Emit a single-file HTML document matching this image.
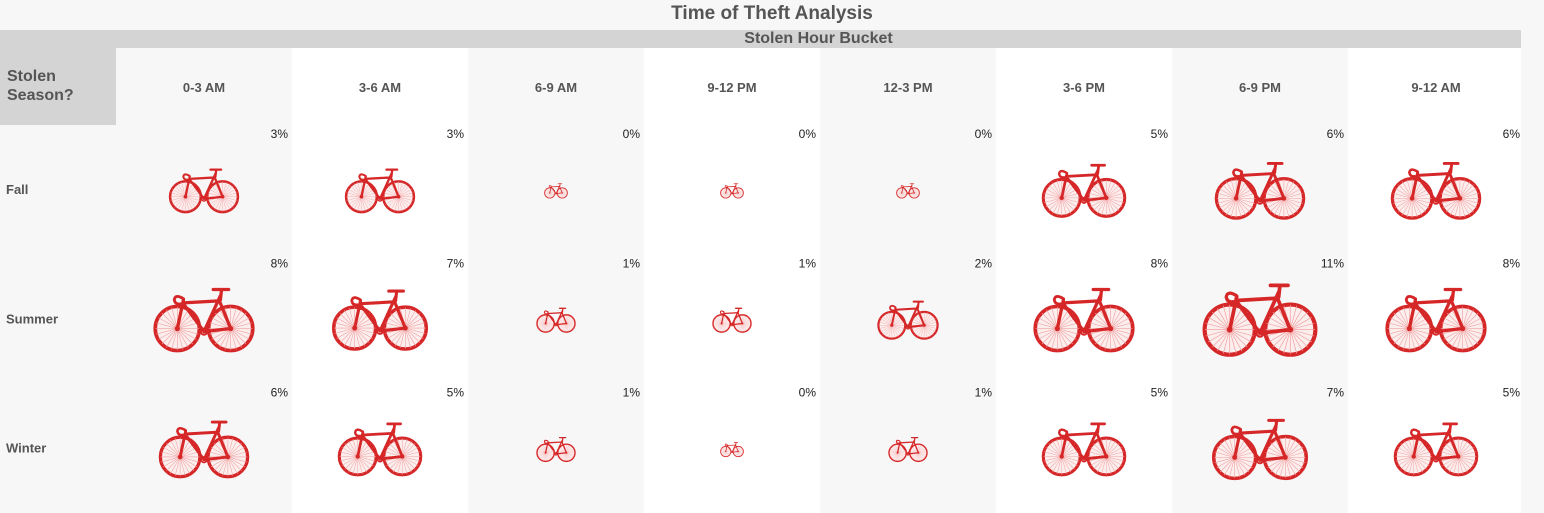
<!DOCTYPE html>
<html><head><meta charset="utf-8"><style>
body{margin:0;width:1544px;height:513px;background:#f7f7f7;font-family:"Liberation Sans",Arial,sans-serif;overflow:hidden;position:relative}
.a{position:absolute}
</style></head><body>
<div class="a" style="left:0;width:1544px;top:3px;text-align:center;font-size:19px;font-weight:bold;color:#555">Time of Theft Analysis</div>
<div class="a" style="left:0;top:30px;width:1521px;height:18px;background:#d4d4d4"></div>
<div class="a" style="left:116px;width:1405px;top:30px;text-align:center;font-size:16px;font-weight:bold;color:#555;line-height:18px">Stolen Hour Bucket</div>
<div class="a" style="left:0;top:48px;width:116px;height:77px;background:#d4d4d4"></div>
<div class="a" style="left:7px;top:67px;font-size:16px;font-weight:bold;color:#555;line-height:19px">Stolen<br>Season?</div>
<svg id="chart" class="a" style="left:0;top:0" width="1544" height="513"></svg>
<script>
const hours=["0-3 AM","3-6 AM","6-9 AM","9-12 PM","12-3 PM","3-6 PM","6-9 PM","9-12 AM"];
const seasons=["Fall","Summer","Winter"];
const fallVals=[3,3,0,0,0,5,6,6];
const summerVals=[8,7,1,1,2,8,11,8];
const winterVals=[6,5,1,0,1,5,7,5];
const series=[fallVals,summerVals,winterVals];
const NS="http://www.w3.org/2000/svg";
const svg=document.getElementById('chart');
const colX=i=>116+i*176, colW=176;
const rowY=j=>125+j*129.3;
function sz(v){return v<=0?24:(v<1.5?40:22+28.5*Math.sqrt(v));}
function mk(t,a){const e=document.createElementNS(NS,t);for(const k in a)e.setAttribute(k,a[k]);return e;}
hours.forEach((h,i)=>{
  const r=mk('rect',{x:colX(i),y:48,width:i===7?173:colW,height:465,fill:i%2===0?'#f7f7f7':'#fff'});
  
  svg.appendChild(r);
  const t=mk('text',{x:colX(i)+colW/2,y:92,'text-anchor':'middle','font-size':13,'font-weight':'bold',fill:'#555'});
  t.textContent=h;
  
  svg.appendChild(t);
});
let spokes='';
for(let k=0;k<12;k++){const a=k*Math.PI/12;spokes+=`M${-21*Math.cos(a)} ${-21*Math.sin(a)} L${21*Math.cos(a)} ${21*Math.sin(a)} `;}
seasons.forEach((s,j)=>{
  const t=mk('text',{x:6,y:rowY(j)+69,'font-size':13,'font-weight':'bold',fill:'#555'});
  t.textContent=s;
  
  svg.appendChild(t);
  series[j].forEach((v,i)=>{
    const p=mk('text',{x:colX(i)+colW-4,y:rowY(j)+13,'text-anchor':'end','font-size':12,fill:'#222'});
    p.textContent=v+'%';
    
    svg.appendChild(p);
    const w=sz(v),sc=w/100;
    const cx=colX(i)+colW/2, cy=rowY(j)+66;
    const g=mk('g',{transform:`translate(${cx-w/2},${cy-34*sc}) scale(${sc})`,stroke:'#d62728',fill:'none','stroke-linecap':'round'});
    
    
    g.innerHTML=`<circle cx="24" cy="42" r="21.5" stroke-width="3.6" fill="#fdeeee"/><circle cx="76" cy="42" r="21.5" stroke-width="3.6" fill="#fdeeee"/>
<path transform="translate(24 42)" d="${spokes}" stroke="#f0a0a0" stroke-width="0.6"/><path transform="translate(76 42)" d="${spokes}" stroke="#f0a0a0" stroke-width="0.6"/>
<circle cx="24" cy="42" r="2" fill="#d62728"/><circle cx="76" cy="42" r="2" fill="#d62728"/>
<path d="M24 42 L30 14 M30 17 L65 15 L76 42 M66 10 L50 45 M30 18 L50 45 L76 42" stroke-width="3.2"/>
<path d="M30 13 Q22 8 21 14 Q22 19 27 18" stroke-width="2.8"/>
<path d="M66 14 L67 5 M59 4 L74 4" stroke-width="3.2"/>
<circle cx="50" cy="45" r="3" stroke-width="2"/>`;
    svg.appendChild(g);
  });
});
</script>
</body></html>
